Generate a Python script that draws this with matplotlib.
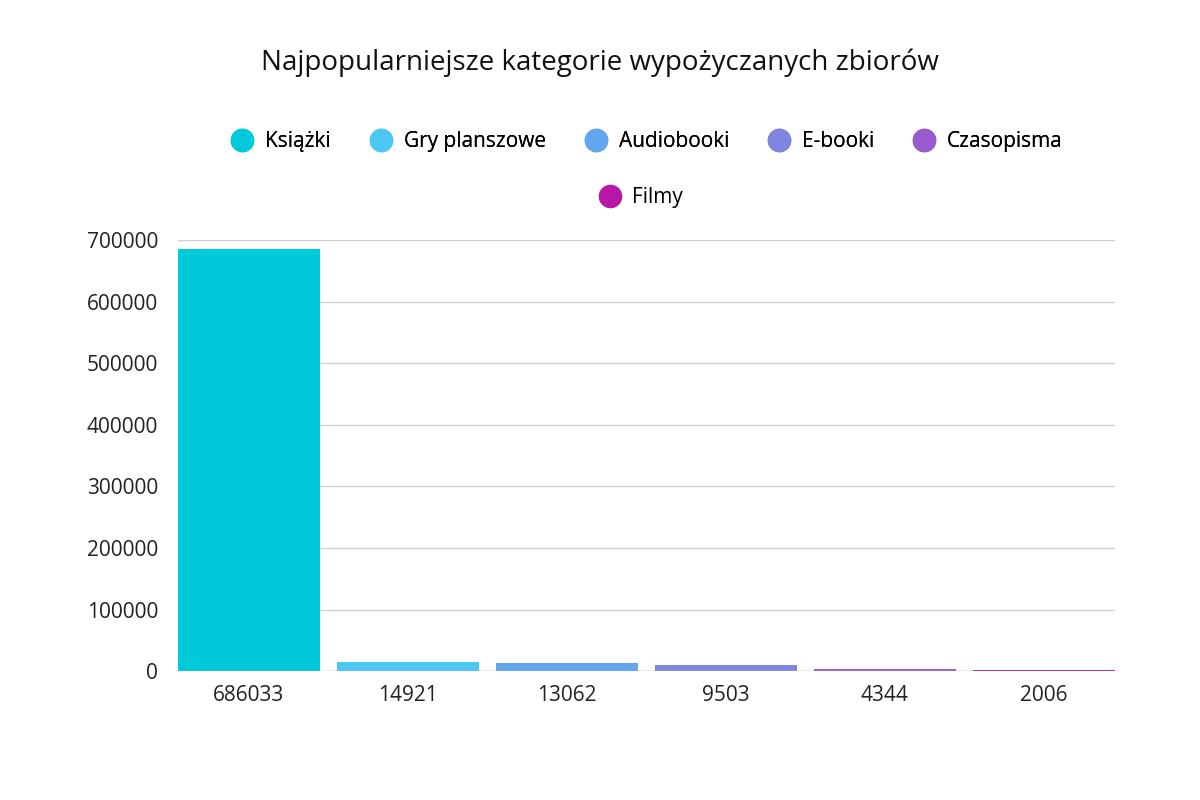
import matplotlib.pyplot as plt
from matplotlib.lines import Line2D

plt.rcParams['font.family'] = ['Open Sans', 'DejaVu Sans']

categories = ['Książki', 'Gry planszowe', 'Audiobooki', 'E-booki', 'Czasopisma', 'Filmy']
values = [686033, 14921, 13062, 9503, 4344, 2006]
colors = ['#00C9D9', '#4CC8F2', '#62A6F0', '#7E86E2', '#9B5BD0', '#B617A6']

fig = plt.figure(figsize=(12, 8), dpi=100)
ax = fig.add_axes([0.148, 0.161, 0.781, 0.539])

w = 0.893
x = range(len(values))
ax.bar(x, values, width=w, color=colors, zorder=3)
ax.set_xlim(-w / 2, len(values) - 1 + w / 2)
ax.set_ylim(0, 700000)
ax.set_yticks(range(0, 700001, 100000))
ax.set_xticks(list(x))
ax.set_xticklabels([str(v) for v in values])
ax.tick_params(length=0, labelsize=15, colors='#222222')
ax.tick_params(axis='x', pad=10)
ax.tick_params(axis='y', pad=14)
ax.grid(axis='y', color='#d0d0d0', linewidth=1, zorder=0)
for s in ax.spines.values():
    s.set_visible(False)
ax.axhline(0, color='#bbbbbb', linewidth=1, zorder=4)

fig.text(0.5, 0.922, 'Najpopularniejsze kategorie wypożyczanych zbiorów',
         ha='center', va='center', fontsize=20, color='#111111')

handles = [Line2D([], [], marker='o', linestyle='', markersize=16, color=c) for c in colors]
leg1 = fig.legend(handles[:5], categories[:5], loc='center', bbox_to_anchor=(0.535, 0.823),
                  ncol=5, frameon=False, fontsize=15, handletextpad=0.1, columnspacing=1.4)
fig.add_artist(leg1)
fig.legend(handles[5:], categories[5:], loc='center', bbox_to_anchor=(0.53, 0.753),
           frameon=False, fontsize=15, handletextpad=0.1)

fig.savefig('out.png', dpi=100)
